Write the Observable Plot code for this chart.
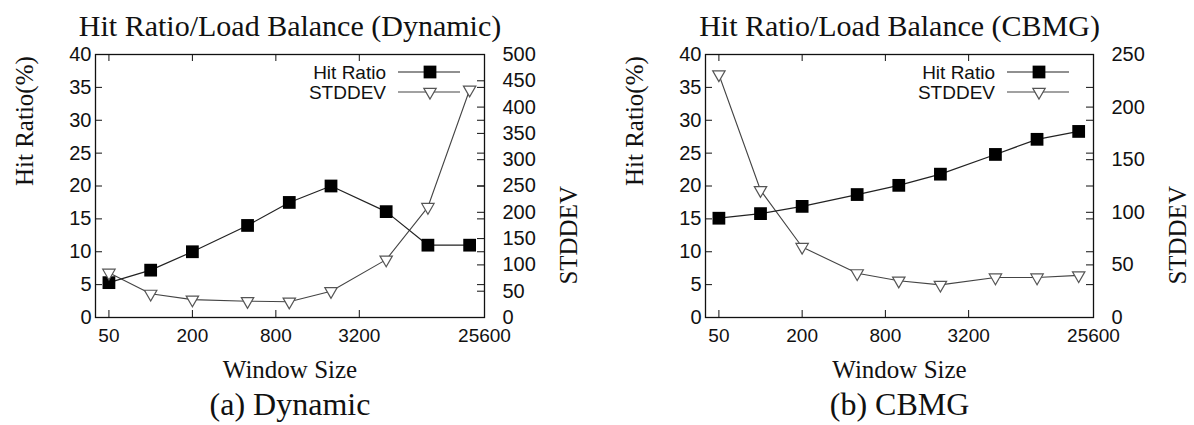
<!DOCTYPE html>
<html>
<head>
<meta charset="utf-8">
<script src="https://cdn.jsdelivr.net/npm/d3@7"></script>
<script src="https://cdn.jsdelivr.net/npm/@observablehq/plot@0.6"></script>
<style>
  html, body { margin: 0; padding: 0; background: #fff; }
  #wrap { display: flex; width: 1194px; height: 425px; }
</style>
</head>
<body>
<div id="wrap"></div>
<script>
// ---- data ----
const windowSizes = [50, 100, 200, 500, 1000, 2000, 5000, 10000, 20000];
const xTickValues = [50, 200, 800, 3200, 25600];
const hitTicks = [0, 5, 10, 15, 20, 25, 30, 35, 40];

const dynamicHit = [5.3, 7.2, 10, 14, 17.5, 20, 16.1, 11, 11];
const dynamicStd = [85, 45, 34, 31, 30, 50, 110, 210, 433];
const dynamicStdTicks = [0, 50, 100, 150, 200, 250, 300, 350, 400, 450, 500];

const cbmgHit = [15.1, 15.8, 16.9, 18.7, 20.1, 21.8, 24.8, 27.1, 28.3];
const cbmgStd = [231, 121, 67, 42, 35, 31, 38, 38, 40];
const cbmgStdTicks = [0, 50, 100, 150, 200, 250];

const legendLabels = ["Hit Ratio", "STDDEV"];

const SANS = "Liberation Sans, Arial, sans-serif";
const SERIF = "Liberation Serif, Times New Roman, serif";

function panel({hit, std, stdTicks, title, caption, marginLeft, marginRight}) {
  const W = 597, H = 425, mTop = 54, mBottom = 108;
  const frameW = W - marginLeft - marginRight;
  const frameH = H - mTop - mBottom;
  const stdMax = stdTicks[stdTicks.length - 1];
  const k = 40 / stdMax;
  const data = windowSizes.map((w, i) => ({w, hit: hit[i], std: std[i]}));
  const tl = 7;

  const svg = Plot.plot({
    width: W, height: H,
    marginLeft, marginRight, marginTop: mTop, marginBottom: mBottom,
    style: {fontFamily: SANS, fontSize: "20px", color: "#111", background: "#fff", overflow: "visible"},
    x: {type: "log", domain: [40, 25600], axis: null},
    y: {domain: [0, 40]},
    marks: [
      // inward tick marks
      Plot.ruleX(xTickValues, {x: d => d, insetTop: frameH - tl, stroke: "#111"}),
      Plot.ruleX(xTickValues, {x: d => d, insetBottom: frameH - tl, stroke: "#111"}),
      Plot.ruleY(hitTicks, {y: d => d, insetRight: frameW - tl, stroke: "#111"}),
      Plot.ruleY(hitTicks, {y: d => d, insetLeft: frameW - tl, stroke: "#111"}),
      Plot.ruleY(stdTicks, {y: d => d * k, insetLeft: frameW - tl, stroke: "#111"}),
      Plot.frame({stroke: "#111", strokeWidth: 1.3}),
      // series
      Plot.line(data, {x: "w", y: d => d.std * k, stroke: "#444", strokeWidth: 1.1}),
      Plot.line(data, {x: "w", y: "hit", stroke: "#222", strokeWidth: 1.2}),
      Plot.dot(data, {x: "w", y: "hit", symbol: "square", r: 7.2, fill: "#000", stroke: "none"}),
      Plot.dot(data, {x: "w", y: d => d.std * k, symbol: "triangle", rotate: 180, r: 4.6, fill: "#fff", stroke: "#555", strokeWidth: 1.2}),
      // axes drawn last so their labels sit on top
      Plot.text(xTickValues, {x: d => d, text: d => `${d}`, frameAnchor: "bottom", dy: 11,
                              lineAnchor: "top", fontSize: 19, fontFamily: SANS, fill: "#111"}),
      Plot.axisY({ticks: hitTicks, tickSize: 0, tickPadding: 4, label: null, fontSize: 20}),
      Plot.axisY({anchor: "right", ticks: stdTicks.map(v => v * k), tickSize: 0, tickPadding: 18,
                  tickFormat: d => String(Math.round(d / k)), label: null, fontSize: 20}),
      // titles and labels
      Plot.text([title], {text: d => d, frameAnchor: "top", dy: -19, lineAnchor: "bottom", fontSize: 30, fontFamily: SERIF, fill: "#111"}),
      Plot.text(["Window Size"], {text: d => d, frameAnchor: "bottom", dy: 60, lineAnchor: "bottom", fontSize: 25, fontFamily: SERIF, fill: "#111"}),
      Plot.text([caption], {text: d => d, frameAnchor: "bottom", dy: 97, lineAnchor: "bottom", fontSize: 32, fontFamily: SERIF, fill: "#111"}),
      Plot.text(["Hit Ratio(%)"], {text: d => d, frameAnchor: "left", dx: -71, rotate: -90, fontSize: 25, fontFamily: SERIF, fill: "#111"}),
      Plot.text(["STDDEV"], {text: d => d, frameAnchor: "right", dx: 84, rotate: -90, fontSize: 25, fontFamily: SERIF, fill: "#111"})
    ]
  });

  // legend (inside top-right of frame)
  const fr = W - marginRight;
  const g = d3.select(svg).append("g").attr("font-family", SANS).attr("font-size", 19).attr("fill", "#111");
  const rows = [72, 92];
  legendLabels.forEach((lab, i) => {
    const y = rows[i];
    g.append("text").attr("x", fr - 98).attr("y", y).attr("dy", "0.35em").attr("text-anchor", "end").text(lab);
    g.append("line").attr("x1", fr - 86).attr("x2", fr - 24).attr("y1", y).attr("y2", y)
      .attr("stroke", i === 0 ? "#222" : "#444").attr("stroke-width", 1.2);
    const cx = fr - 54;
    if (i === 0) {
      g.append("path").attr("transform", `translate(${cx},${y})`)
        .attr("d", d3.symbol(d3.symbolSquare, Math.PI * 7.2 * 7.2)()).attr("fill", "#000");
    } else {
      g.append("path").attr("transform", `translate(${cx},${y}) rotate(180)`)
        .attr("d", d3.symbol(d3.symbolTriangle, Math.PI * 4.6 * 4.6)()).attr("fill", "#fff")
        .attr("stroke", "#555").attr("stroke-width", 1.2);
    }
  });
  return svg;
}

const wrap = document.getElementById("wrap");
wrap.appendChild(panel({
  hit: dynamicHit, std: dynamicStd, stdTicks: dynamicStdTicks,
  title: "Hit Ratio/Load Balance (Dynamic)", caption: "(a) Dynamic",
  marginLeft: 95, marginRight: 113
}));
wrap.appendChild(panel({
  hit: cbmgHit, std: cbmgStd, stdTicks: cbmgStdTicks,
  title: "Hit Ratio/Load Balance (CBMG)", caption: "(b) CBMG",
  marginLeft: 108, marginRight: 101
}));
</script>
</body>
</html>
